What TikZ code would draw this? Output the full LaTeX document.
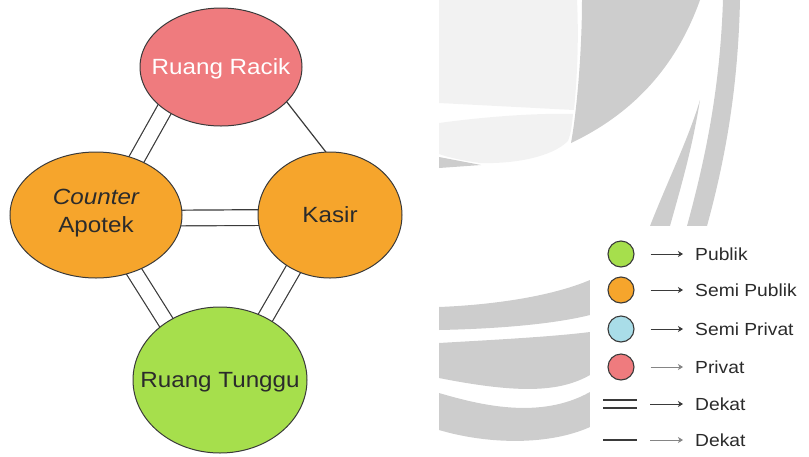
\documentclass[tikz,border=0pt]{standalone}
\usepackage{fontspec}
\setmainfont{Liberation Sans}[FakeStretch=1.1]
\usetikzlibrary{shapes.geometric,arrows.meta,backgrounds}

\definecolor{linegray}{HTML}{3A3A3A}
\definecolor{privred}{HTML}{EF7B7E}
\definecolor{semiorange}{HTML}{F6A52C}
\definecolor{pubgreen}{HTML}{A6DF4C}
\definecolor{semiblue}{HTML}{A9DDE8}
\definecolor{marklight}{HTML}{F2F2F2}
\definecolor{markmid}{HTML}{CDCDCD}
\definecolor{textdark}{HTML}{2B2B2B}
\definecolor{arrowlight}{HTML}{858585}

\begin{document}
\begin{tikzpicture}[x=1pt,y=-1pt,
  room/.style={ellipse, draw=linegray, line width=1pt, inner sep=0pt,
    text depth=0pt, text=textdark, align=center,
    font=\fontsize{22}{28}\selectfont},
  link/.style={draw=linegray, line width=1.2pt,
    shorten <=-14pt, shorten >=-14pt},
  dbllink/.style={link, double=white, double distance=14.5pt},
  legdot/.style={circle, draw=linegray, line width=1.1pt,
    minimum size=26pt, inner sep=0pt},
  legtext/.style={anchor=west, inner sep=0pt, text=textdark,
    font=\fontsize{17.5}{20}\selectfont},
  legarrow/.style={draw=linegray, line width=1pt,
    -{Stealth[length=5pt,width=6pt,inset=1.5pt]},
    shorten <=16pt, shorten >=12pt},
  legline/.style={draw=linegray, line width=1.2pt},
  legdbl/.style={legline, double=white, double distance=6.8pt}
]
\useasboundingbox (0,0) rectangle (809,456);

% grey logo shapes behind the legend
\fill[marklight] (439,0) -- (577,0) .. controls (579,40) and (577,80) .. (574,110)
  -- (439,103) -- cycle;
\fill[marklight] (439,123) .. controls (490,116) and (540,113) .. (573,114)
  .. controls (572,125) and (571,133) .. (568,141)
  .. controls (552,157) and (515,164) .. (480,163)
  .. controls (465,161) and (450,158) .. (439,154) -- cycle;
\fill[markmid] (439,157) -- (481,165) -- (439,168) -- cycle;
\fill[markmid] (582,0) -- (700,0) .. controls (675,70) and (630,115) .. (571,143)
  .. controls (577,110) and (582,50) .. (582,0) -- cycle;
\fill[markmid] (700,100) .. controls (692,150) and (680,190) .. (670,226)
  -- (650,226) .. controls (668,180) and (688,140) .. (700,100) -- cycle;
\fill[markmid] (723,0) -- (740,0) .. controls (738,90) and (725,160) .. (707,226)
  -- (687,226) .. controls (705,160) and (720,90) .. (723,0) -- cycle;
\fill[markmid] (439,307) .. controls (490,305) and (550,297) .. (590,280)
  -- (590,315) .. controls (550,325) and (490,329) .. (439,330) -- cycle;
\fill[markmid] (439,343) .. controls (490,340) and (550,337) .. (590,332)
  -- (590,375) .. controls (560,392) and (520,394) .. (439,378) -- cycle;
\fill[markmid] (439,393) .. controls (480,405) and (540,420) .. (590,392)
  -- (590,427) .. controls (550,445) and (490,445) .. (439,430) -- cycle;

% legend panel
\fill[white] (590,226) rectangle (809,456);

% rooms
\node[room, fill=privred, text=white, minimum width=162pt, minimum height=118pt]
  (racik) at (221,67) {\makebox[0pt]{Ruang Racik}};
\node[room, fill=semiorange, minimum width=172pt, minimum height=126pt,
  text depth=8pt]
  (counter) at (96,215) {\makebox[0pt]{\itshape Counter}\\\makebox[0pt]{Apotek}};
\node[room, fill=semiorange, minimum width=144pt, minimum height=126pt]
  (kasir) at (330,215) {\makebox[0pt]{Kasir}};
\node[room, fill=pubgreen, minimum width=174pt, minimum height=146pt]
  (tunggu) at (220,380) {\makebox[0pt]{Ruang Tunggu}};

% relations between rooms
\begin{pgfonlayer}{background}
  \draw[dbllink] (counter.54.6) -- (racik.217.8);
  \draw[link] (racik.-28.2) -- (kasir.94.6);
  \draw[dbllink] (counter.-2.3) -- (kasir.182.8);
  \draw[dbllink] (counter.-56.4) -- (tunggu.133.5);
  \draw[dbllink] (kasir.236) -- (tunggu.54);
\end{pgfonlayer}

% legend
\node[legdot, fill=pubgreen] (lg1) at (621,254) {};
\node[legdot, fill=semiorange] (lg2) at (621,290) {};
\node[legdot, fill=semiblue] (lg3) at (621,329) {};
\node[legdot, fill=privred] (lg4) at (621,367) {};
\coordinate (ld1a) at (603,404);
\coordinate (ld1b) at (637,404);
\coordinate (ld2a) at (603,440);
\coordinate (ld2b) at (637,440);
\draw[legdbl] (ld1a) -- (ld1b);
\draw[legline] (ld2a) -- (ld2b);

\node[legtext] (lt1) at (695,254) {Publik};
\node[legtext] (lt2) at (695,290) {Semi Publik};
\node[legtext] (lt3) at (695,329) {Semi Privat};
\node[legtext] (lt4) at (695,367) {Privat};
\node[legtext] (lt5) at (695,404) {Dekat};
\node[legtext] (lt6) at (695,440) {Dekat};

\draw[legarrow] (lg1) -- (lt1);
\draw[legarrow] (lg2) -- (lt2);
\draw[legarrow] (lg3) -- (lt3);
\draw[legarrow, draw=arrowlight] (lg4) -- (lt4);
\draw[legarrow, shorten <=13pt] (ld1b) -- (lt5);
\draw[legarrow, draw=arrowlight, shorten <=13pt] (ld2b) -- (lt6);
\end{tikzpicture}
\end{document}
